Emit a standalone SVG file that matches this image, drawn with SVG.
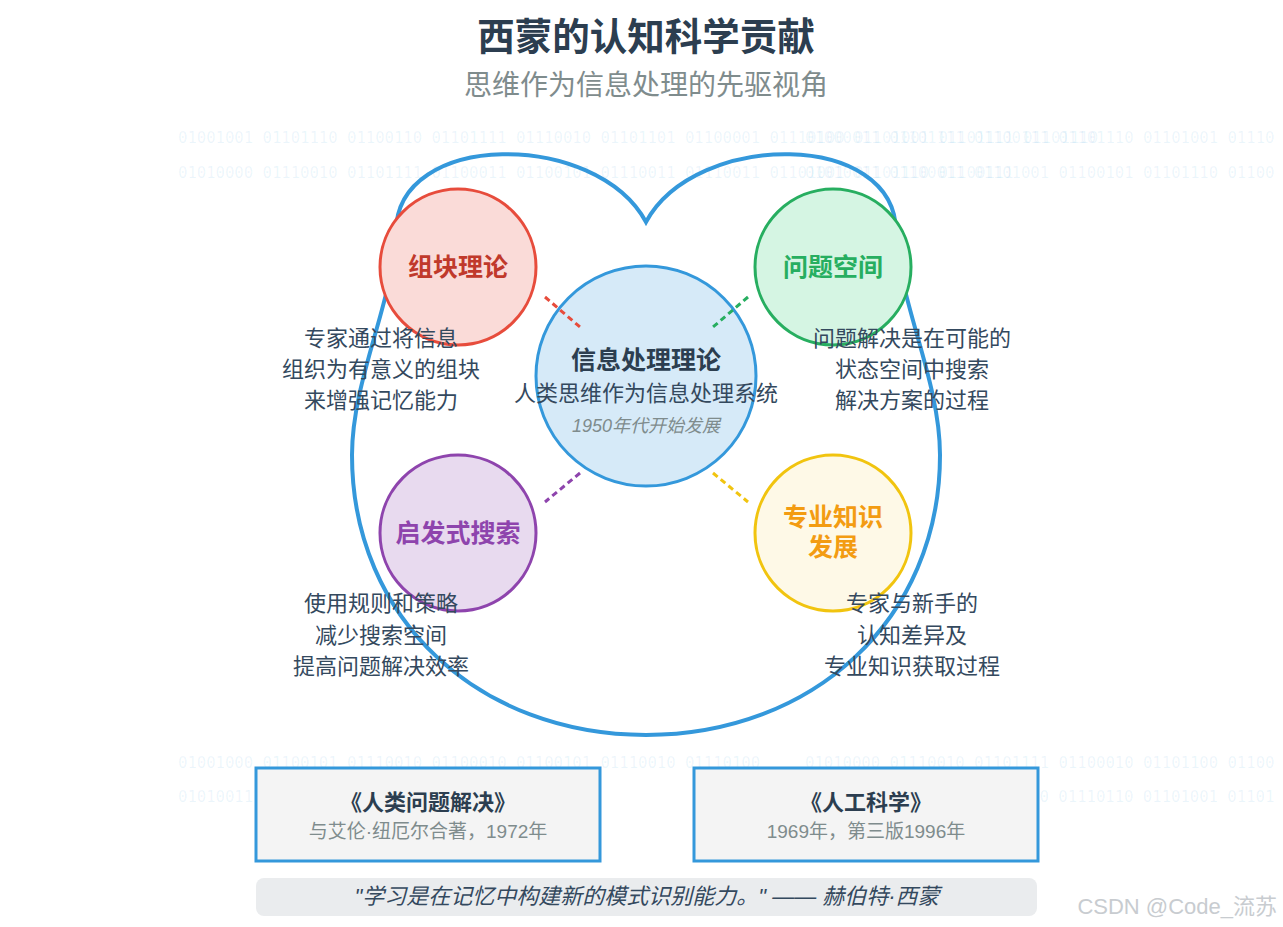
<svg xmlns="http://www.w3.org/2000/svg" width="1283" height="927" viewBox="0 0 1283 927">
<style>
.cjk{font-family:"Liberation Sans","Noto Sans CJK SC",sans-serif}
.bin{font-family:"DejaVu Sans Mono",monospace;font-size:15.6px;fill:#3498db;fill-opacity:0.09}
.title{font-size:37.5px;font-weight:bold;fill:#2c3e50}
.subtitle{font-size:28px;fill:#7f8c8d}
.node{stroke-width:3}
.nlabel{font-size:25px;font-weight:bold;text-anchor:middle}
.desc{font-size:22px;fill:#34495e;text-anchor:middle}
.conn{stroke-width:3;stroke-dasharray:6 4;fill:none}
.book{fill:#f4f4f4;stroke:#3498db;stroke-width:3}
.btitle{font-size:22px;font-weight:bold;fill:#2c3e50;text-anchor:middle}
.bsub{font-size:19px;fill:#7f8c8d;text-anchor:middle}
</style>
<rect width="1283" height="927" fill="#ffffff"/>
<g id="binary" class="bin">
<text x="178" y="143">01001001 01101110 01100110 01101111 01110010 01101101 01100001 01110100 01101001 01101111 01101110</text>
<text x="805" y="143">01000011 01101111 01100111 01101110 01101001 01110</text>
<text x="178" y="178">01010000 01110010 01101111 01100011 01100101 01110011 01110011 01101001 01101110 01100111</text>
<text x="805" y="178">01010011 01100011 01101001 01100101 01101110 01100</text>
<text x="178" y="768">01001000 01100101 01110010 01100010 01100101 01110010 01110100</text>
<text x="805" y="768">01010000 01110010 01101111 01100010 01101100 01100</text>
<text x="178" y="802">01010011</text>
<text x="1039.6" y="802">0 01110110 01101001 01101</text>
</g>
<g id="header" class="cjk">
<text class="title" x="646" y="50" text-anchor="middle">西蒙的认知科学贡献</text>
<text class="subtitle" x="646" y="95" text-anchor="middle">思维作为信息处理的先驱视角</text>
</g>
<g id="brain">
<path d="M646,222 C596,130 396,130 396,232 C394,300 352,380 352,455 C352,620 480,735 646,735 C812,735 940,620 940,455 C940,380 898,300 896,232 C896,130 696,130 646,222 Z" fill="none" stroke="#3498db" stroke-width="4" stroke-linejoin="miter"/>
</g>
<g id="center-node" class="cjk">
<circle class="node" cx="646" cy="376" r="110" fill="#d6eaf8" stroke="#3498db"/>
<text x="646" y="369" text-anchor="middle" font-size="25" font-weight="bold" fill="#2c3e50">信息处理理论</text>
<text x="646" y="401" text-anchor="middle" font-size="22" fill="#34495e">人类思维作为信息处理系统</text>
<text x="646" y="432" text-anchor="middle" font-size="18" font-style="italic" fill="#7f8c8d">1950年代开始发展</text>
</g>
<g id="chunking" class="cjk">
<circle class="node" cx="458" cy="267" r="78" fill="#fadbd8" stroke="#e74c3c"/>
<text class="nlabel" x="458" y="276" fill="#c0392b">组块理论</text>
<text class="desc" x="381" y="346">专家通过将信息</text>
<text class="desc" x="381" y="377">组织为有意义的组块</text>
<text class="desc" x="381" y="408">来增强记忆能力</text>
</g>
<g id="problem-space" class="cjk">
<circle class="node" cx="833" cy="267" r="78" fill="#d5f5e3" stroke="#27ae60"/>
<text class="nlabel" x="833" y="276" fill="#27ae60">问题空间</text>
<text class="desc" x="912" y="346">问题解决是在可能的</text>
<text class="desc" x="912" y="377">状态空间中搜索</text>
<text class="desc" x="912" y="408">解决方案的过程</text>
</g>
<g id="heuristic" class="cjk">
<circle class="node" cx="458" cy="533" r="78" fill="#e8daef" stroke="#8e44ad"/>
<text class="nlabel" x="458" y="542" fill="#8e44ad">启发式搜索</text>
<text class="desc" x="381" y="611">使用规则和策略</text>
<text class="desc" x="381" y="643">减少搜索空间</text>
<text class="desc" x="381" y="674">提高问题解决效率</text>
</g>
<g id="expertise" class="cjk">
<circle class="node" cx="833" cy="533" r="78" fill="#fef9e7" stroke="#f1c40f"/>
<text class="nlabel" x="833" y="526" fill="#f39c12">专业知识</text>
<text class="nlabel" x="833" y="556" fill="#f39c12">发展</text>
<text class="desc" x="912" y="611">专家与新手的</text>
<text class="desc" x="912" y="643">认知差异及</text>
<text class="desc" x="912" y="674">专业知识获取过程</text>
</g>
<g id="connectors">
<line class="conn" x1="545" y1="297" x2="580" y2="327" stroke="#e74c3c"/>
<line class="conn" x1="748" y1="297" x2="713" y2="327" stroke="#27ae60"/>
<line class="conn" x1="580" y1="473" x2="545" y2="502" stroke="#8e44ad"/>
<line class="conn" x1="713" y1="473" x2="748" y2="502" stroke="#f1c40f"/>
</g>
<g id="book1" class="cjk">
<rect class="book" x="256" y="768" width="344" height="93"/>
<text class="btitle" x="428" y="810">《人类问题解决》</text>
<text class="bsub" x="428" y="838">与艾伦·纽厄尔合著，1972年</text>
</g>
<g id="book2" class="cjk">
<rect class="book" x="694" y="768" width="344" height="93"/>
<text class="btitle" x="866" y="810">《人工科学》</text>
<text class="bsub" x="866" y="838">1969年，第三版1996年</text>
</g>
<g id="quote" class="cjk">
<rect x="256" y="878" width="781" height="38" rx="8" fill="#eaecee"/>
<text x="647" y="904" text-anchor="middle" font-size="22" font-style="italic" fill="#34495e">"学习是在记忆中构建新的模式识别能力。" —— 赫伯特·西蒙</text>
</g>
<g id="watermark" class="cjk">
<text x="1277" y="914" text-anchor="end" font-size="22" fill="#c8ccd0">CSDN @Code_流苏</text>
</g>
</svg>
